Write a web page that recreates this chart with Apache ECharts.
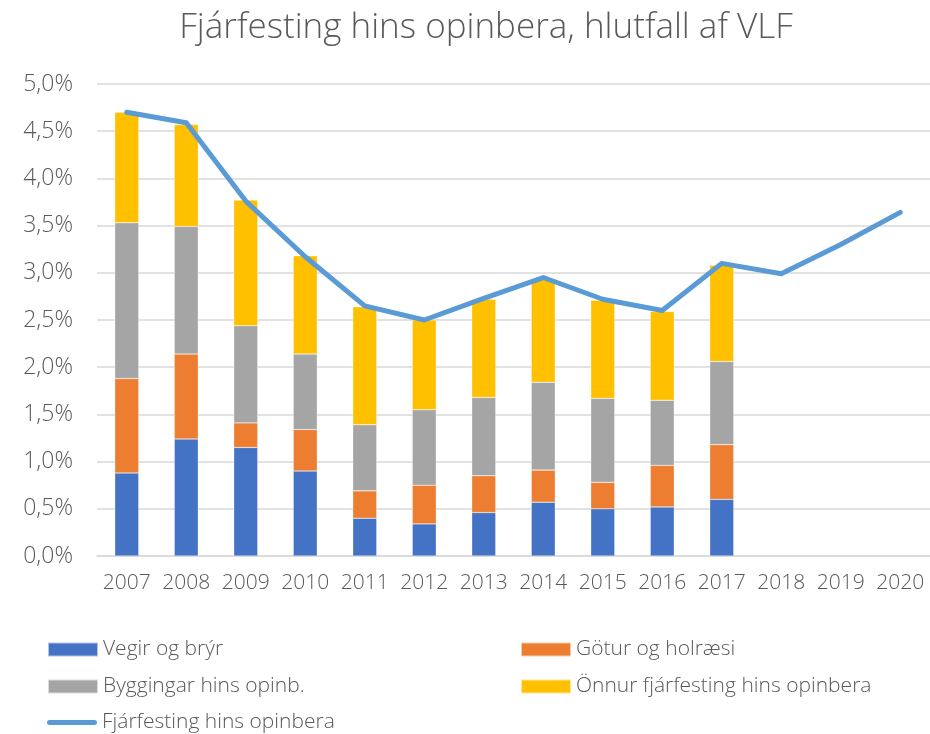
<!DOCTYPE html>
<html>
<head>
<meta charset="utf-8">
<script src="https://cdn.jsdelivr.net/npm/echarts@6/dist/echarts.min.js"></script>
<style>
html,body{margin:0;padding:0;background:#fff;}
#c{width:930px;height:734px;}
</style>
</head>
<body>
<div id="c"></div>
<script>
var years = ['2007','2008','2009','2010','2011','2012','2013','2014','2015','2016','2017','2018','2019','2020'];
var vegir = [0.88, 1.24, 1.15, 0.90, 0.40, 0.34, 0.46, 0.57, 0.50, 0.52, 0.60];
var gotur = [1.00, 0.90, 0.26, 0.44, 0.29, 0.41, 0.39, 0.34, 0.28, 0.44, 0.58];
var byggingar = [1.65, 1.35, 1.03, 0.80, 0.70, 0.80, 0.83, 0.93, 0.89, 0.69, 0.88];
var onnur = [1.17, 1.08, 1.33, 1.04, 1.25, 0.95, 1.04, 1.09, 1.04, 0.94, 1.02];
var heild = [4.70, 4.59, 3.76, 3.17, 2.65, 2.50, 2.73, 2.95, 2.72, 2.60, 3.10, 2.99, 3.30, 3.64];

var names = ['Vegir og brýr','Götur og holræsi','Byggingar hins opinb.','Önnur fjárfesting hins opinbera','Fjárfesting hins opinbera'];
var colors = ['#4472C4','#ED7D31','#A5A5A5','#FFC000','#5B9BD5'];
var font = '"Open Sans", "Noto Sans", sans-serif';
var txt = '#595959';

function barSeries(i, data){
  return {
    name: names[i], type:'bar', stack:'a', data:data, barWidth:24,
    itemStyle:{color:colors[i], borderColor:'rgba(255,255,255,0.6)', borderWidth:0.5},
    emphasis:{disabled:true}
  };
}
function legendAt(i, left, top, isLine){
  var item = {name:names[i]};
  if (isLine) {
    item.icon = 'path://M2.5,0 L47.5,0 A2.5,2.5 0 0 1 47.5,5 L2.5,5 A2.5,2.5 0 0 1 2.5,0 Z';
  } else {
    item.icon = 'rect';
  }
  return {
    data:[item], left:left, top:top, padding:0,
    itemWidth:50, itemHeight: isLine ? 5 : 14, itemGap:4,
    textStyle:{color:txt, fontSize:21, fontFamily:font, fontWeight:300},
    selectedMode:false
  };
}

var chart = echarts.init(document.getElementById('c'), null, {renderer:'canvas'});
chart.setOption({
  animation:false,
  backgroundColor:'#fff',
  title:{
    text:'Fjárfesting hins opinbera, hlutfall af VLF',
    left:481, textAlign:'center', top:6,
    textStyle:{color:txt, fontSize:35, fontWeight:300, fontFamily:font}
  },
  legend:[
    legendAt(0, 47, 639, false),
    legendAt(1, 520, 639, false),
    legendAt(2, 47, 676, false),
    legendAt(3, 520, 676, false),
    legendAt(4, 47, 712, true)
  ],
  grid:{left:97, right:0, top:84, bottom:178, containLabel:false},
  xAxis:{
    type:'category', data:years,
    axisLine:{lineStyle:{color:'#D9D9D9', width:1.5}},
    axisTick:{show:false},
    axisLabel:{color:txt, fontSize:21, fontFamily:font, fontWeight:300, margin:17, interval:0}
  },
  yAxis:{
    type:'value', min:0, max:5, interval:0.5,
    axisLine:{show:false}, axisTick:{show:false},
    splitLine:{lineStyle:{color:'#D9D9D9', width:1.5}},
    axisLabel:{color:txt, fontSize:23, fontFamily:font, fontWeight:300, margin:24,
      formatter:function(v){ return v.toFixed(1).replace('.', ',') + '%'; }}
  },
  series:[
    barSeries(0, vegir),
    barSeries(1, gotur),
    barSeries(2, byggingar),
    barSeries(3, onnur),
    {
      name:names[4], type:'line', data:heild, symbol:'none', z:5,
      lineStyle:{color:colors[4], width:5, cap:'round', join:'round'},
      itemStyle:{color:colors[4]},
      emphasis:{disabled:true}
    }
  ]
});
</script>
</body>
</html>
